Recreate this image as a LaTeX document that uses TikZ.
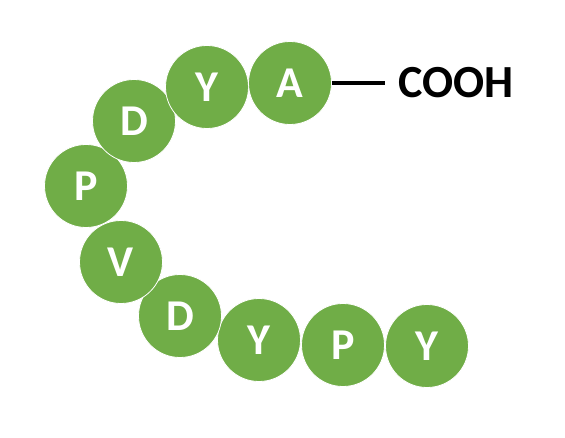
\documentclass[tikz,border=0pt]{standalone}
\usepackage{fontspec}
\setmainfont{Carlito}
\definecolor{aagreen}{HTML}{70AD47}
\begin{document}
\begin{tikzpicture}[x=1pt,y=-1pt,
  aa/.style={circle, fill=aagreen, draw=white, line width=0.8pt, minimum size=83pt, inner sep=0pt, text=white,
    font=\fontsize{44}{44}\selectfont\bfseries},
  lbl/.style={font=\fontsize{46}{46}\selectfont\bfseries, text=black, inner sep=0pt, anchor=west}]
\useasboundingbox (0,0) rectangle (565,438);
\node[aa] (a9) at (427,346) {Y};
\node[aa] (a8) at (343,345) {P};
\node[aa] (a7) at (259,340) {Y};
\node[aa] (a6) at (180,316) {D};
\node[aa] (a5) at (121,262) {V};
\node[aa] (a4) at (86,186) {P};
\node[aa] (a3) at (134,121) {D};
\node[aa] (a2) at (207,87) {Y};
\node[aa] (a1) at (290,83) {A};
\node[lbl] (cooh) at (398,83) {COOH};
\coordinate (lend) at (385,83);
\draw[line width=3.5pt] (a1.east) -- (lend);
\end{tikzpicture}
\end{document}
